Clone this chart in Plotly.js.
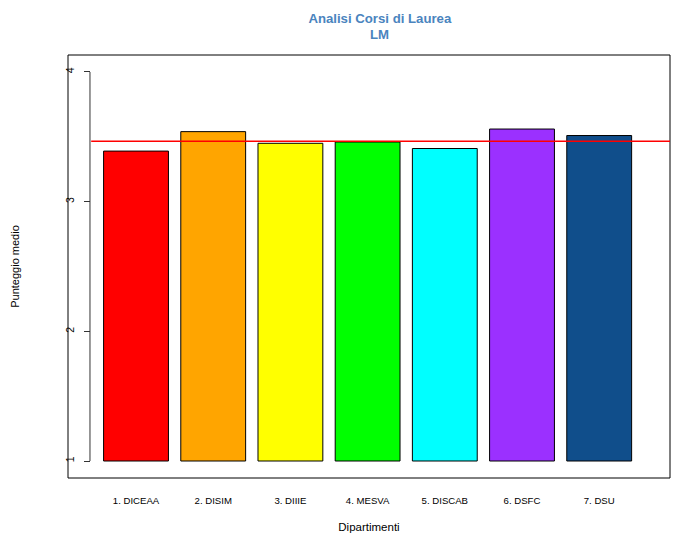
<!DOCTYPE html>
<html>
<head>
<meta charset="utf-8">
<script src="https://cdn.plot.ly/plotly-3.0.1.min.js"></script>
<style>html,body{margin:0;padding:0;background:#fff;}#chart{width:678px;height:535px;}</style>
</head>
<body>
<div id="chart"></div>
<script>
const categories = ["1. DICEAA", "2. DISIM", "3. DIIIE", "4. MESVA", "5. DISCAB", "6. DSFC", "7. DSU"];
const scores = [3.39, 3.54, 3.45, 3.46, 3.41, 3.56, 3.51];
const barColors = ["#FF0000", "#FFA500", "#FFFF00", "#00FF00", "#00FFFF", "#9B30FF", "#104E8B"];
const meanScore = 3.465;
const yTicks = [1, 2, 3, 4];
const baseValue = 1;
const titleLines = ["Analisi Corsi di Laurea", "LM"];

const font = "Liberation Sans, Arial, Helvetica, sans-serif";
const idx = categories.map((c, i) => i);
const axisPos = 0.0365;
const titleColor = "#4A84BE";
const titleX = 0.518;

const trace = {
  type: "bar",
  x: idx,
  y: scores.map(v => v - baseValue),
  base: baseValue,
  width: 0.84,
  marker: {color: barColors, line: {color: "#000", width: 1}},
  hoverinfo: "skip"
};

const layout = {
  width: 678, height: 535,
  paper_bgcolor: "#fff", plot_bgcolor: "#fff",
  margin: {l: 68, r: 8, t: 55, b: 57},
  showlegend: false,
  font: {family: font, color: "#000"},
  title: {
    text: "<b>" + titleLines[0] + "</b>",
    font: {family: font, size: 13.2, color: titleColor},
    x: titleX, xanchor: "center", xref: "paper",
    y: 1 - 18.5 / 535, yanchor: "middle", yref: "container"
  },
  annotations: [
    {text: "<b>" + titleLines[1] + "</b>", xref: "paper", yref: "paper",
     x: titleX, y: 1 + 21 / 423, xanchor: "center", yanchor: "middle", showarrow: false,
     font: {family: font, size: 13.2, color: titleColor}}
  ],
  xaxis: {
    range: [-0.881, 6.917],
    tickvals: idx, ticktext: categories,
    showline: false, showgrid: false, zeroline: false, ticks: "",
    tickfont: {size: 9.6, family: font},
    ticklabelstandoff: 15,
    title: {text: "Dipartimenti", font: {size: 11.5, family: font}, standoff: 18},
    fixedrange: true
  },
  yaxis: {
    range: [0.869, 4.131],
    anchor: "free", position: axisPos,
    tickvals: yTicks, ticktext: yTicks.map(String),
    tickangle: -90,
    showline: false, showgrid: false, zeroline: false,
    ticks: "outside", ticklen: 6, tickcolor: "#333", tickwidth: 1,
    tickfont: {size: 10.5, family: font},
    ticklabelstandoff: 6,
    title: {text: "Punteggio medio", font: {size: 11, family: font}, standoff: 40},
    fixedrange: true
  },
  shapes: [
    {type: "rect", xref: "paper", yref: "paper", x0: 0, x1: 1, y0: 0, y1: 1, line: {color: "#000", width: 1}},
    {type: "line", xref: "paper", yref: "y", x0: axisPos, x1: axisPos, y0: yTicks[0], y1: yTicks[yTicks.length - 1], line: {color: "#333", width: 1}},
    {type: "line", xref: "paper", yref: "y", x0: axisPos + 0.002, x1: 1, y0: meanScore, y1: meanScore, line: {color: "#FF0000", width: 1.5}}
  ]
};

Plotly.newPlot("chart", [trace], layout, {staticPlot: true, displayModeBar: false});
</script>
</body>
</html>
